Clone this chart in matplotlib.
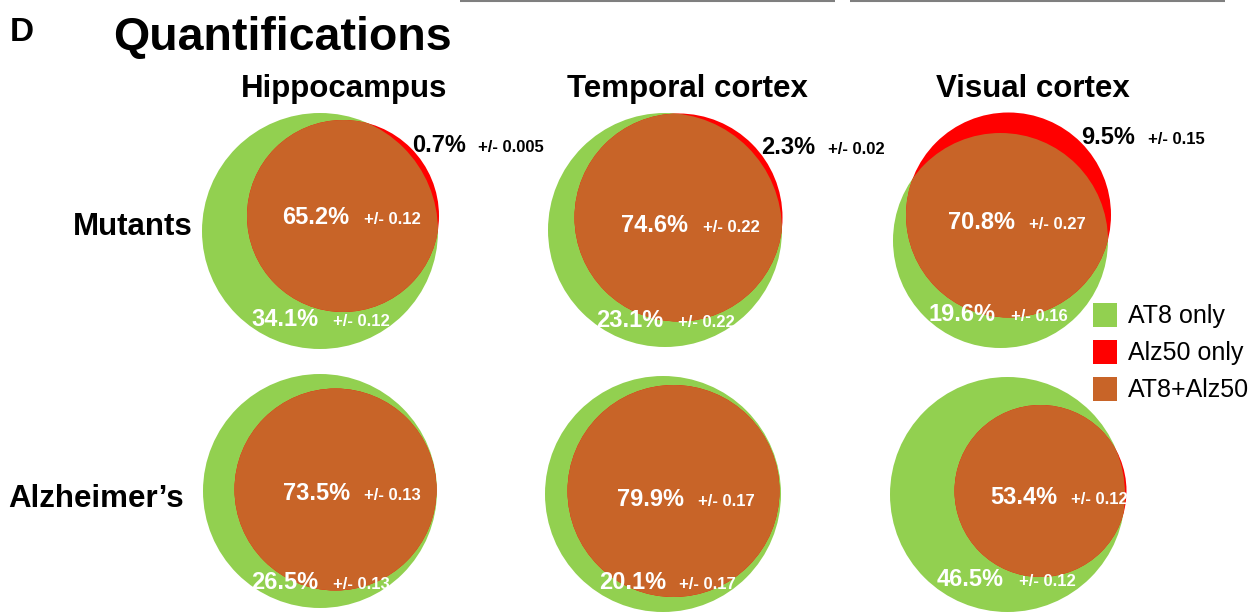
import matplotlib
matplotlib.use("Agg")
import matplotlib.pyplot as plt
from matplotlib.patches import Circle, Rectangle

plt.rcParams['font.family'] = ['Liberation Sans', 'DejaVu Sans']

# ---- data ----
regions = ['Hippocampus', 'Temporal cortex', 'Visual cortex']
groups = ['Mutants', 'Alzheimer’s']
both_pct = [[65.2, 74.6, 70.8], [73.5, 79.9, 53.4]]
both_err = [['0.12', '0.22', '0.27'], ['0.13', '0.17', '0.12']]
at8_pct = [[34.1, 23.1, 19.6], [26.5, 20.1, 46.5]]
at8_err = [['0.12', '0.22', '0.16'], ['0.13', '0.17', '0.12']]
alz_pct = [[0.7, 2.3, 9.5], [None, None, None]]
alz_err = [['0.005', '0.02', '0.15'], [None, None, None]]
legend_labels = ['AT8 only', 'Alz50 only', 'AT8+Alz50']

# ---- styles ----
GREEN = '#92D050'
RED = '#FF0000'
ORANGE = '#C86428'
colors = [GREEN, RED, ORANGE]
PCT_FS = 17
ERR_FS = 12

# ---- layout (pixel coordinates) ----
# green circle (cx, cy, r), red circle (cx, cy, r)
green_geo = [[(320, 231, 118), (665, 230, 117), (1000.5, 240.5, 107.5)],
             [(320, 491, 117), (663, 494, 118), (1007.5, 494.5, 117.5)]]
red_geo = [[(343, 216, 96), (678.5, 217.5, 104.0), (1008.5, 215, 102.5)],
           [(335.5, 489.5, 101), (673.5, 491, 106), (1040.5, 491, 86)]]
# text anchors: (left x, baseline y)
both_pos = [[(282, 224), (621, 232), (948, 229)], [(283, 500), (617, 506), (990, 504)]]
both_err_x = [[364, 703, 1029], [364, 698, 1071]]
at8_pos = [[(251, 326), (596, 327), (929, 321)], [(251, 589), (599, 589), (937, 586)]]
at8_err_x = [[333, 678, 1011], [333, 679, 1019]]
alz_pos = [[(412, 152), (761, 154), (1081, 144)], [None, None, None]]
alz_err_x = [[478, 828, 1148], [None, None, None]]
title_x = [344, 687, 1033]
group_pos = [(73, 235), (8, 507)]

W, H = 1258, 612
fig = plt.figure(figsize=(W / 100, H / 100), dpi=100)
ax = fig.add_axes([0, 0, 1, 1])
ax.set_xlim(0, W)
ax.set_ylim(H, 0)
ax.axis('off')

# fragments of previous panel borders at top edge
ax.plot([460, 835], [1, 1], color='#7f7f7f', lw=1.5, solid_capstyle='butt')
ax.plot([850, 1225], [1, 1], color='#7f7f7f', lw=1.5, solid_capstyle='butt')

ax.text(10, 41, 'D', fontsize=24, fontweight='bold', ha='left', va='baseline')
ax.text(113, 50, 'Quantifications', fontsize=33.5, fontweight='bold', ha='left', va='baseline')

for j, reg in enumerate(regions):
    ax.text(title_x[j], 97, reg, fontsize=22.5, fontweight='bold', ha='center', va='baseline')

for i, g in enumerate(groups):
    ax.text(group_pos[i][0], group_pos[i][1], g, fontsize=22.5, fontweight='bold',
            ha='left', va='baseline')

for i in range(len(groups)):
    for j in range(len(regions)):
        gx, gy, gr = green_geo[i][j]
        rx, ry, rr = red_geo[i][j]
        gc = Circle((gx, gy), gr, facecolor=GREEN, edgecolor='none', zorder=1)
        ax.add_patch(gc)
        rc = Circle((rx, ry), rr, facecolor=RED, edgecolor='none', zorder=2)
        ax.add_patch(rc)
        oc = Circle((rx, ry), rr, facecolor=ORANGE, edgecolor='none', zorder=3)
        ax.add_patch(oc)
        clip = Circle((gx, gy), gr, transform=ax.transData)
        oc.set_clip_path(clip)

        x, y = both_pos[i][j]
        ax.text(x, y, f'{both_pct[i][j]:.1f}%', color='white', fontsize=PCT_FS,
                fontweight='bold', ha='left', va='baseline', zorder=5)
        ax.text(both_err_x[i][j], y, f'+/- {both_err[i][j]}', color='white', fontsize=ERR_FS,
                fontweight='bold', ha='left', va='baseline', zorder=5)
        x, y = at8_pos[i][j]
        ax.text(x, y, f'{at8_pct[i][j]:.1f}%', color='white', fontsize=PCT_FS,
                fontweight='bold', ha='left', va='baseline', zorder=5)
        ax.text(at8_err_x[i][j], y, f'+/- {at8_err[i][j]}', color='white', fontsize=ERR_FS,
                fontweight='bold', ha='left', va='baseline', zorder=5)
        if alz_pct[i][j] is not None:
            x, y = alz_pos[i][j]
            ax.text(x, y, f'{alz_pct[i][j]:.1f}%', color='black', fontsize=PCT_FS,
                    fontweight='bold', ha='left', va='baseline', zorder=5)
            ax.text(alz_err_x[i][j], y, f'+/- {alz_err[i][j]}', color='black', fontsize=ERR_FS,
                    fontweight='bold', ha='left', va='baseline', zorder=5)

# legend
leg_y = [303, 340, 377]
for k, lab in enumerate(legend_labels):
    ax.add_patch(Rectangle((1093, leg_y[k]), 24, 24, facecolor=colors[k],
                           edgecolor='none', zorder=6))
    ax.text(1128, leg_y[k] + 20, lab, fontsize=18, ha='left', va='baseline', zorder=6)

fig.savefig('out.png', dpi=100)
